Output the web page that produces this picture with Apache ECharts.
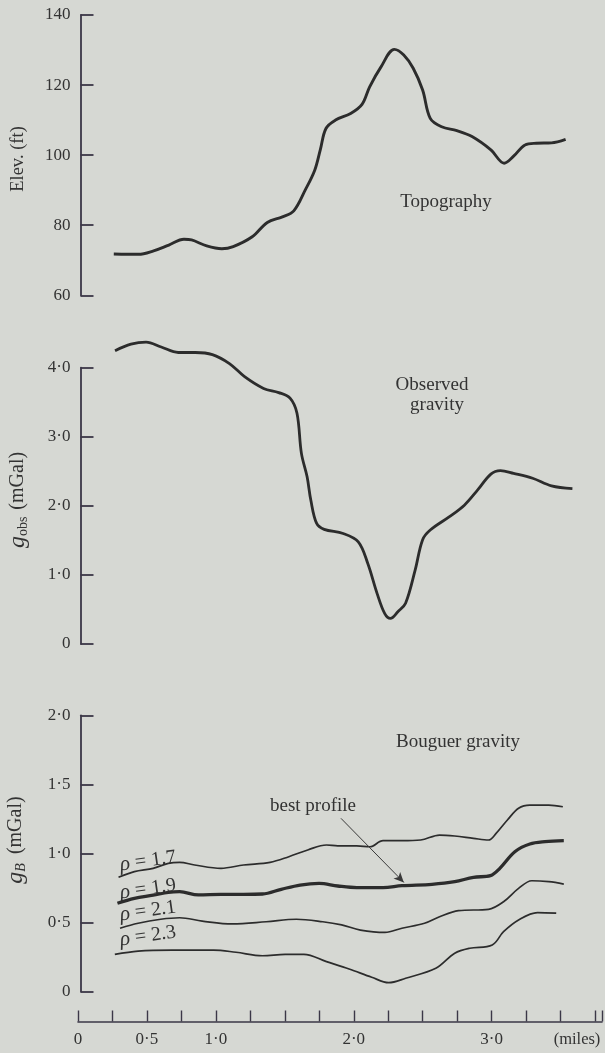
<!DOCTYPE html>
<html>
<head>
<meta charset="utf-8">
<script src="https://cdn.jsdelivr.net/npm/echarts@6/dist/echarts.min.js"></script>
<style>
html,body{margin:0;padding:0;background:#d6d8d3;}
#c{width:605px;height:1053px;}
</style>
</head>
<body>
<div id="c"></div>
<script>
// ---- data (x in miles) ----
const topoX = [0.258,0.436,0.545,0.655,0.764,0.819,0.928,1.037,1.119,1.256,1.365,1.474,1.556,1.638,1.707,1.747,1.788,1.857,1.966,2.048,2.103,2.185,2.281,2.349,2.417,2.485,2.540,2.622,2.732,2.841,2.977,3.073,3.141,3.223,3.305,3.414,3.516];
const topoY = [71.8,71.7,72.7,74.35,76.0,75.8,74.1,73.3,73.9,76.7,80.8,82.4,84.1,90.0,95.7,101.5,107.6,110.0,111.9,114.5,119.5,125.2,130.2,128.6,124.8,118.6,110.5,108.1,107.0,105.3,101.5,97.7,99.7,102.9,103.4,103.5,104.5];

const obsX = [0.267,0.382,0.491,0.600,0.723,0.846,0.969,1.092,1.201,1.338,1.447,1.529,1.579,1.611,1.652,1.679,1.720,1.775,1.912,2.021,2.089,2.157,2.212,2.253,2.308,2.362,2.431,2.485,2.540,2.676,2.786,2.882,2.977,3.046,3.141,3.278,3.414,3.565];
const obsY = [4.245,4.34,4.37,4.30,4.22,4.22,4.19,4.06,3.87,3.70,3.64,3.56,3.34,2.76,2.42,2.08,1.75,1.66,1.60,1.48,1.17,0.73,0.44,0.37,0.47,0.59,1.07,1.51,1.65,1.84,2.01,2.23,2.46,2.51,2.47,2.40,2.29,2.25];

const rho17X = [0.294,0.409,0.545,0.655,0.737,0.846,1.037,1.201,1.393,1.529,1.666,1.802,1.884,2.021,2.117,2.212,2.349,2.485,2.622,2.732,2.868,2.977,3.032,3.114,3.195,3.277,3.414,3.516];
const rho17Y = [0.827,0.868,0.892,0.928,0.935,0.916,0.892,0.916,0.935,0.976,1.025,1.061,1.054,1.054,1.048,1.092,1.092,1.097,1.133,1.126,1.109,1.097,1.145,1.242,1.327,1.350,1.350,1.338];

const rho19X = [0.286,0.409,0.545,0.655,0.737,0.873,1.037,1.201,1.338,1.474,1.611,1.748,1.884,2.021,2.212,2.349,2.567,2.732,2.868,2.991,3.059,3.168,3.277,3.387,3.523];
const rho19Y = [0.639,0.675,0.697,0.718,0.723,0.699,0.704,0.704,0.706,0.740,0.771,0.783,0.764,0.752,0.752,0.766,0.776,0.795,0.827,0.839,0.892,1.012,1.068,1.085,1.092];

const rho21X = [0.305,0.436,0.600,0.737,0.901,1.119,1.365,1.584,1.775,1.912,2.048,2.226,2.349,2.513,2.622,2.759,2.977,3.086,3.195,3.291,3.414,3.523];
const rho21Y = [0.458,0.494,0.523,0.534,0.510,0.489,0.505,0.523,0.505,0.482,0.445,0.428,0.458,0.494,0.541,0.585,0.595,0.650,0.747,0.802,0.795,0.778];

const rho23X = [0.267,0.436,0.682,0.983,1.146,1.338,1.502,1.638,1.802,1.966,2.130,2.253,2.376,2.595,2.732,2.841,3.004,3.086,3.195,3.332,3.468];
const rho23Y = [0.269,0.293,0.300,0.300,0.284,0.259,0.269,0.269,0.216,0.163,0.103,0.064,0.096,0.168,0.277,0.313,0.337,0.433,0.518,0.571,0.567];

// arrow for "best profile" (data coords of bottom panel)
const arrowFrom = [1.907, 1.254];
const arrowTo = [2.363, 0.79];

// tick labels
const xLabelValues = [0, 0.5, 1, 2, 3];
const xLabelTexts = ['0', '0·5', '1·0', '2·0', '3·0'];
const topTicks = [60, 80, 100, 120, 140];
const topTickTexts = ['60', '80', '100', '120', '140'];
const obsTicks = [0, 1, 2, 3, 4];
const obsTickTexts = ['0', '1·0', '2·0', '3·0', '4·0'];
const bTicks = [0, 0.5, 1, 1.5, 2];
const bTickTexts = ['0', '0·5', '1·0', '1·5', '2·0'];

const rhoLabels = ['1.7', '1.9', '2.1', '2.3'];

function zip(xs, ys){ return xs.map((x,i)=>[x, ys[i]]); }
function fmt(vals, texts){ return v => { for (let i=0;i<vals.length;i++){ if (Math.abs(v-vals[i])<1e-6) return texts[i]; } return ''; }; }

const FONT = '"Liberation Serif", "DejaVu Serif", serif';
const INK = '#2c2c2c';
const AX = '#3b3747';
const TXT = '#333333';

const chart = echarts.init(document.getElementById('c'), null, {renderer:'canvas'});

const gridLeft = 78, gridWidth = 140.5 * 3.8;
const grids = [
  {left: gridLeft, width: gridWidth, top: 15, height: 280.3},
  {left: gridLeft, width: gridWidth, top: 367.7, height: 276.3},
  {left: gridLeft, width: gridWidth, top: 715.3, height: 276.2}
];

function xAx(i, show){
  return {
    type:'value', gridIndex:i, min:0, max:3.8, interval:0.25, show: show,
    offset: show ? 30 : 0,
    axisLine:{show:true, onZero:false, lineStyle:{color:AX, width:1.6}},
    axisTick:{show:true, inside:true, length:11, lineStyle:{color:AX, width:1.4}},
    axisLabel:{show:true, formatter: fmt(xLabelValues, xLabelTexts), color:TXT, fontFamily:FONT, fontSize:17, margin:10, showMinLabel:true, showMaxLabel:true},
    splitLine:{show:false}
  };
}
function yAx(i, min, max, interval, vals, texts){
  return {
    type:'value', gridIndex:i, min:min, max:max, interval:interval, offset:-2.5,
    axisLine:{show:true, lineStyle:{color:AX, width:1.8}},
    axisTick:{show:true, inside:true, length:13, lineStyle:{color:AX, width:1.8}},
    axisLabel:{formatter: fmt(vals, texts), color:TXT, fontFamily:FONT, fontSize:17, margin:10},
    splitLine:{show:false}
  };
}

function line(i, xs, ys, w){
  return {
    type:'line', xAxisIndex:i, yAxisIndex:i, data: zip(xs, ys), showSymbol:false, smooth:0.35,
    clip:false, lineStyle:{color:INK, width:w}, silent:true, animation:false
  };
}

const s19 = line(2, rho19X, rho19Y, 3.3);
s19.markLine = {
  silent:true, animation:false, symbol:['none','arrow'], symbolSize:[7,10],
  label:{show:false},
  lineStyle:{color:'#3a3a3a', width:1, type:'solid'},
  data:[[{coord:arrowFrom}, {coord:arrowTo}]]
};

function txt(x, y, s, size, extra){
  return Object.assign({type:'text', x:x, y:y, silent:true,
    style:{text:s, fill:TXT, font: size + 'px ' + FONT, align:'center', verticalAlign:'middle'}}, extra||{});
}
function rhoTxt(x, y, val){
  return {type:'text', x:x, y:y, rotation:0.14, silent:true,
    style:{text:'{r|ρ} = ' + val, fill:TXT, font:'20px ' + FONT, align:'center', verticalAlign:'middle',
      rich:{r:{fontStyle:'italic', fontSize:21, fontFamily:FONT, fill:TXT}}}};
}

const option = {
  backgroundColor:'#d6d8d3',
  animation:false,
  grid: grids,
  xAxis: [xAx(0,false), xAx(1,false), xAx(2,true)],
  yAxis: [
    yAx(0, 60, 140, 20, topTicks, topTickTexts),
    yAx(1, 0, 4, 1, obsTicks, obsTickTexts),
    yAx(2, 0, 2, 0.5, bTicks, bTickTexts)
  ],
  series: [
    line(0, topoX, topoY, 2.9),
    line(1, obsX, obsY, 2.8),
    line(2, rho17X, rho17Y, 1.7),
    s19,
    line(2, rho21X, rho21Y, 1.7),
    line(2, rho23X, rho23Y, 1.7)
  ],
  graphic: [
    txt(18, 159, 'Elev. (ft)', 18.5, {rotation: Math.PI/2}),
    {type:'text', x:18, y:500, rotation:Math.PI/2, silent:true,
      style:{text:'{g|g}{s|obs} (mGal)', fill:TXT, font:'20px ' + FONT, align:'center', verticalAlign:'middle',
        rich:{g:{fontStyle:'italic', fontSize:24, fontFamily:FONT, fill:TXT, verticalAlign:'middle'},
              s:{fontSize:14, fontFamily:FONT, fill:TXT, verticalAlign:'bottom', padding:[7,2,0,0]}}}},
    {type:'text', x:16, y:840, rotation:Math.PI/2, silent:true,
      style:{text:'{g|g}{s|B} (mGal)', fill:TXT, font:'20px ' + FONT, align:'center', verticalAlign:'middle',
        rich:{g:{fontStyle:'italic', fontSize:24, fontFamily:FONT, fill:TXT, verticalAlign:'middle'},
              s:{fontStyle:'italic', fontSize:14, fontFamily:FONT, fill:TXT, verticalAlign:'bottom', padding:[7,4,0,0]}}}},
    txt(446, 202, 'Topography', 19),
    txt(432, 385, 'Observed', 19),
    txt(437, 405, 'gravity', 19),
    txt(458, 742, 'Bouguer gravity', 19),
    txt(313, 806, 'best profile', 19),
    txt(577, 1040, '(miles)', 16.5),
    rhoTxt(148, 861, rhoLabels[0]),
    rhoTxt(148, 889, rhoLabels[1]),
    rhoTxt(148, 911, rhoLabels[2]),
    rhoTxt(148, 936, rhoLabels[3])
  ]
};
chart.setOption(option);
</script>
</body>
</html>
